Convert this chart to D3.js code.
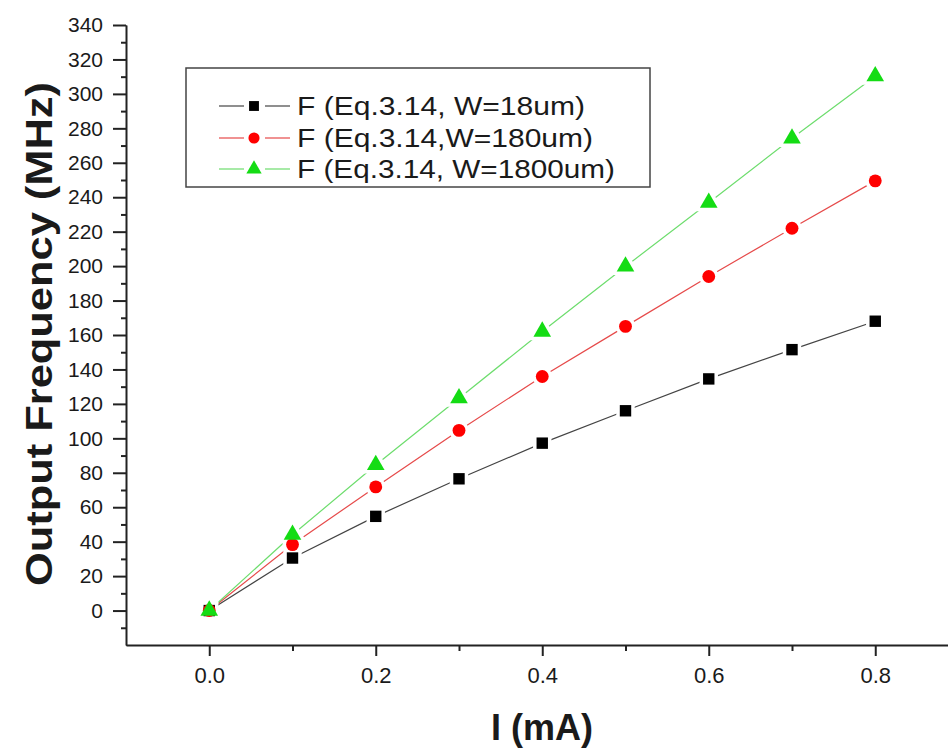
<!DOCTYPE html>
<html>
<head>
<meta charset="utf-8">
<script src="https://cdn.jsdelivr.net/npm/d3@7"></script>
<style>
  body { margin: 0; background: #fff; }
  svg { display: block; font-family: 'Liberation Sans', Arial, sans-serif; }
  .axis path, .axis line { stroke: #222; }
</style>
</head>
<body>
<svg id="chart"></svg>
<script>
// current in mA
const currents = [0, 0.1, 0.2, 0.3, 0.4, 0.5, 0.6, 0.7, 0.8];
// output frequency (MHz) for each width
const freqW18 = [0, 30.5, 54.7, 76.5, 97.2, 116, 134.5, 151.5, 168];
const freqW180 = [0, 38.3, 71.8, 104.6, 135.9, 165, 194, 222, 249.5];
const freqW1800 = [0, 44, 84.5, 123.3, 162, 199.8, 236.8, 274.2, 310.3];
const seriesLabels = ['F (Eq.3.14, W=18um)', 'F (Eq.3.14,W=180um)', 'F (Eq.3.14, W=1800um)'];
const yTicks = d3.range(0, 341, 20);
const xTicks = [0, 0.2, 0.4, 0.6, 0.8];

class FreqChart {
  constructor(_config, _data) {
    this.config = {
      parentElement: _config.parentElement,
      containerWidth: _config.containerWidth || 948,
      containerHeight: _config.containerHeight || 749
    };
    this.data = _data;
    this.initVis();
  }

  initVis() {
    let vis = this;
    vis.svg = d3.select(vis.config.parentElement)
        .attr('width', vis.config.containerWidth)
        .attr('height', vis.config.containerHeight);

    // right end of x axis runs off the picture
    vis.xScale = d3.scaleLinear().domain([-0.1, 0.9]).range([126, 958.5]);
    vis.yScale = d3.scaleLinear().domain([-20, 340]).range([645, 25]);

    vis.lineGen = d3.line()
        .x(d => vis.xScale(d.x))
        .y(d => vis.yScale(d.y));
    vis.renderVis();
  }

  renderVis() {
    let vis = this;

    // minor ticks
    vis.svg.append('g')
        .attr('class', 'axis')
        .attr('transform', 'translate(126,0)')
        .call(d3.axisLeft(vis.yScale).tickValues(d3.range(-10, 340, 20)).tickSize(5).tickSizeOuter(0).tickFormat(''))
        .call(g => g.selectAll('line').attr('stroke-width', 2));
    vis.svg.append('g')
        .attr('class', 'axis')
        .attr('transform', 'translate(0,645)')
        .call(d3.axisBottom(vis.xScale).tickValues([0.1, 0.3, 0.5, 0.7]).tickSize(6).tickSizeOuter(0).tickFormat(''))
        .call(g => g.selectAll('line').attr('stroke-width', 2));

    vis.yAxisG = vis.svg.append('g')
        .attr('class', 'axis')
        .attr('transform', 'translate(126,0)')
        .call(d3.axisLeft(vis.yScale).tickValues(yTicks).tickSize(13).tickSizeOuter(0).tickPadding(10));
    vis.yAxisG.select('.domain').attr('stroke-width', 2);
    vis.yAxisG.selectAll('line').attr('stroke-width', 2);
    vis.yAxisG.selectAll('text')
        .attr('font-size', 21).attr('fill', '#1a1a1a')
        .style('font-family', "'Liberation Sans', Arial, sans-serif");

    vis.xAxisG = vis.svg.append('g')
        .attr('class', 'axis')
        .attr('transform', 'translate(0,645)')
        .call(d3.axisBottom(vis.xScale).tickValues(xTicks).tickSize(11).tickSizeOuter(0).tickPadding(11).tickFormat(d3.format('.1f')));
    vis.xAxisG.select('.domain').attr('stroke-width', 2);
    vis.xAxisG.selectAll('line').attr('stroke-width', 2);
    vis.xAxisG.selectAll('text')
        .attr('font-size', 22).attr('fill', '#1a1a1a')
        .style('font-family', "'Liberation Sans', Arial, sans-serif");

    // axis titles
    vis.svg.append('text')
        .attr('transform', 'translate(52,334) rotate(-90)')
        .attr('text-anchor', 'middle')
        .attr('font-size', 36).attr('font-weight', 'bold').attr('fill', '#1a1a1a')
        .attr('textLength', 504).attr('lengthAdjust', 'spacingAndGlyphs')
        .text('Output Frequency (MHz)');
    vis.svg.append('text')
        .attr('x', 542).attr('y', 740)
        .attr('text-anchor', 'middle')
        .attr('font-size', 36).attr('font-weight', 'bold').attr('fill', '#1a1a1a')
        .text('I (mA)');

    // lines
    vis.svg.selectAll('.series-line')
      .data(vis.data)
      .join('path')
        .attr('class', 'series-line')
        .attr('fill', 'none')
        .attr('stroke', d => d.line)
        .attr('stroke-width', 1.2)
        .attr('d', d => vis.lineGen(d.values));

    const symbolPath = s => d3.symbol().type(s.symbol).size(s.size)();

    // white halos give the small gap between line and marker
    vis.svg.selectAll('.halo-g')
      .data(vis.data)
      .join('g')
        .attr('class', 'halo-g')
      .selectAll('path')
      .data(d => d.values.map(v => ({...v, s: d})))
      .join('path')
        .attr('transform', d => `translate(${vis.xScale(d.x)},${vis.yScale(d.y)})`)
        .attr('d', d => symbolPath(d.s))
        .attr('fill', '#fff').attr('stroke', '#fff').attr('stroke-width', 7);

    vis.svg.selectAll('.marker-g')
      .data(vis.data)
      .join('g')
        .attr('class', 'marker-g')
      .selectAll('path')
      .data(d => d.values.map(v => ({...v, s: d})))
      .join('path')
        .attr('transform', d => `translate(${vis.xScale(d.x)},${vis.yScale(d.y)})`)
        .attr('d', d => symbolPath(d.s))
        .attr('fill', d => d.s.color);

    // legend
    const lg = vis.svg.append('g');
    lg.append('rect')
        .attr('x', 186).attr('y', 68).attr('width', 464).attr('height', 119)
        .attr('fill', '#fff').attr('stroke', '#444').attr('stroke-width', 1.5);
    const rowY = [106, 138, 169];
    const textLen = [288, 296, 318];
    vis.data.forEach((s, i) => {
      const row = lg.append('g').attr('transform', `translate(0,${rowY[i]})`);
      row.append('line').attr('x1', 219).attr('x2', 244).attr('stroke', s.line).attr('stroke-width', 1.2);
      row.append('line').attr('x1', 265).attr('x2', 290).attr('stroke', s.line).attr('stroke-width', 1.2);
      row.append('path')
          .attr('transform', 'translate(254,0)')
          .attr('d', d3.symbol().type(s.symbol).size(s.size * 0.75)())
          .attr('fill', s.color);
      row.append('text')
          .attr('x', 297).attr('dy', '0.35em')
          .attr('font-size', 25).attr('fill', '#1a1a1a')
          .attr('textLength', textLen[i]).attr('lengthAdjust', 'spacingAndGlyphs')
          .text(s.label);
    });
  }
}

const toPoints = arr => arr.map((y, i) => ({x: currents[i], y: y}));

const chartData = [
  {label: seriesLabels[0], values: toPoints(freqW18), color: '#000', line: '#444', symbol: d3.symbolSquare, size: 130},
  {label: seriesLabels[1], values: toPoints(freqW180), color: '#f00', line: '#e64a4a', symbol: d3.symbolCircle, size: 130},
  {label: seriesLabels[2], values: toPoints(freqW1800), color: '#14dc14', line: '#6ddd6d', symbol: d3.symbolTriangle, size: 135}
];

new FreqChart({parentElement: '#chart'}, chartData);
</script>
</body>
</html>
